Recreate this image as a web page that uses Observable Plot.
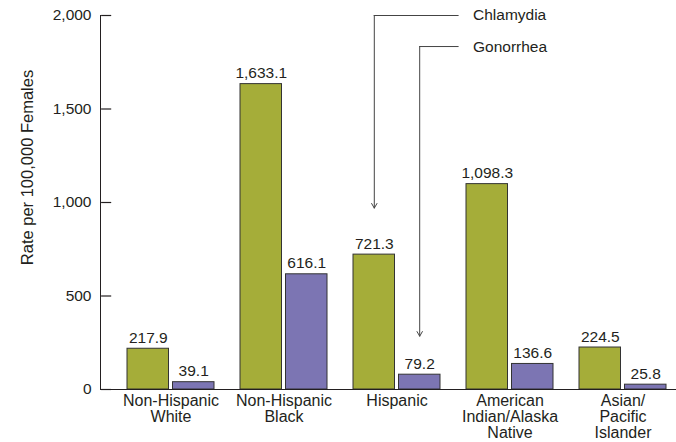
<!DOCTYPE html>
<html><head><meta charset="utf-8">
<script src="https://cdn.jsdelivr.net/npm/d3@7"></script>
<script src="https://cdn.jsdelivr.net/npm/@observablehq/plot@0.6"></script>
<style>body{margin:0;background:#fff;} #chart svg{display:block;}</style>
</head><body><div id="chart"></div>
<script>
const groups = ["Non-Hispanic White", "Non-Hispanic Black", "Hispanic", "American Indian/Alaska Native", "Asian/Pacific Islander"];
const groupLabels = ["Non-Hispanic\nWhite", "Non-Hispanic\nBlack", "Hispanic", "American\nIndian/Alaska\nNative", "Asian/\nPacific\nIslander"];
const chlamydia = [217.9, 1633.1, 721.3, 1098.3, 224.5];
const gonorrhea = [39.1, 616.1, 79.2, 136.6, 25.8];
const yTicks = [0, 500, 1000, 1500, 2000];
const yLabel = "Rate per 100,000 Females";
const annotationLabels = ["Chlamydia", "Gonorrhea"];
const annotationGroup = "Hispanic";
const annotationTop = [2000, 1834];
const annotationTip = [970, 285];

const fmt = d3.format(",.1f");
const chl = groups.map((g, i) => ({group: g, value: chlamydia[i], label: fmt(chlamydia[i])}));
const gon = groups.map((g, i) => ({group: g, value: gonorrhea[i], label: fmt(gonorrhea[i])}));
const xl = groups.map((g, i) => ({group: g, label: groupLabels[i]}));
const ann = annotationLabels.map((l, i) => ({label: l, group: annotationGroup, top: annotationTop[i], tip: annotationTip[i]}));

const green = "#a5ad39", purple = "#7c75b3", ink = "#231f20";
const half = 45.5, off = 22.7, fs = 15.5;

const chart = Plot.plot({
  width: 676, height: 442,
  marginTop: 15, marginBottom: 53, marginLeft: 100, marginRight: 0,
  style: {fontFamily: "'Liberation Sans', Arial, sans-serif", fontSize: fs + "px", color: ink, background: "#fff"},
  x: {domain: groups, paddingInner: 0.233, paddingOuter: 0.1586, align: 0.72, axis: null},
  y: {domain: [0, 2000], ticks: yTicks, tickFormat: d3.format(","), tickSize: 0, tickPadding: 9, line: true, label: null},
  marks: [
    Plot.barY(chl, {x: "group", y: "value", fill: green, stroke: "#333", strokeWidth: 1, insetRight: half}),
    Plot.barY(gon, {x: "group", y: "value", fill: purple, stroke: "#333", strokeWidth: 1, insetLeft: half}),
    Plot.ruleY([0], {stroke: ink, strokeWidth: 1.2}),
    // inward y ticks
    Plot.ruleY(yTicks, {y: d => d, x1: () => groups[0], x2: () => groups[0], insetLeft: -25.9, insetRight: 102.8, stroke: ink, strokeWidth: 1.2}),
    Plot.text(chl, {x: "group", y: "value", text: "label", dx: -off, dy: -6, lineAnchor: "bottom", fill: ink, fontSize: fs}),
    Plot.text(gon, {x: "group", y: "value", text: "label", dx: off, dy: -6, lineAnchor: "bottom", fill: ink, fontSize: fs}),
    Plot.text(xl, {x: "group", frameAnchor: "bottom", text: "label", lineAnchor: "top", dy: 5, lineHeight: 1.0, fontSize: 16, fill: ink}),
    Plot.text([yLabel], {text: d => d, frameAnchor: "left", textAnchor: "middle", lineAnchor: "middle", rotate: -90, dx: -73, dy: -35, fontSize: 16.5, fill: ink}),
    // annotations
    Plot.ruleY(ann.slice(0, 1), {x1: "group", x2: "group", y: "top", insetLeft: 20.7, insetRight: -18.6, stroke: "#444"}),
    Plot.ruleY(ann.slice(1, 2), {x1: "group", x2: "group", y: "top", insetLeft: 66.2, insetRight: -18.6, stroke: "#444"}),
    Plot.arrow(ann.slice(0, 1), {x1: "group", x2: "group", y1: "top", y2: "tip", dx: -off, stroke: "#444", strokeWidth: 1, headLength: 8}),
    Plot.arrow(ann.slice(1, 2), {x1: "group", x2: "group", y1: "top", y2: "tip", dx: off, stroke: "#444", strokeWidth: 1, headLength: 8}),
    Plot.text(ann, {x: "group", y: "top", text: "label", dx: 76, textAnchor: "start", fill: ink, fontSize: fs})
  ]
});
document.getElementById("chart").appendChild(chart);
</script>
</body></html>
